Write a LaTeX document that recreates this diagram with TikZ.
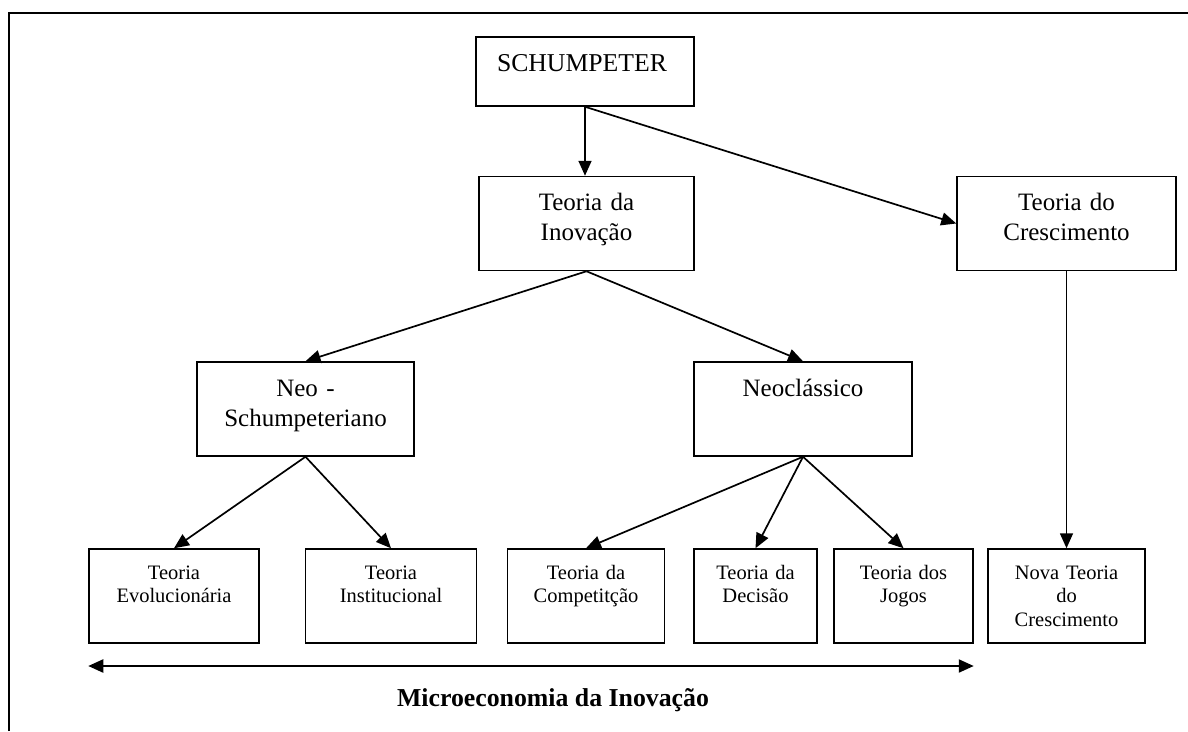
\documentclass[tikz,border=0pt]{standalone}
\usepackage{fontspec}
\setmainfont{Liberation Serif}
\usetikzlibrary{arrows.meta}

\begin{document}
\begin{tikzpicture}[x=1pt, y=-1pt,
		box/.style={draw, line width=1.5pt, text width=#1, inner sep=0pt, align=center,
			font=\fontsize{25}{30}\selectfont, text height=34pt, text depth=60pt},
		leaf/.style={draw, line width=1.5pt, text width=#1, inner sep=0pt, align=center,
			font=\fontsize{20.5}{23.5}\selectfont, text height=30pt, text depth=64pt},
		link/.style={-{Triangle[length=15pt,width=13pt]}, line width=1.7pt}]
		\useasboundingbox (0,0) rectangle (1188,731);

		% Frame (only top and left edges are on the page)
		\draw[line width=1.5pt] (9,731) -- (9,13) -- (1188,13);

		% Top
		\node[box=176, align=left, text height=34pt, text depth=35pt, inner xsep=21pt,
			font=\fontsize{25.7}{30}\selectfont] (schum) at (585,71.5) {SCHUMPETER};

		% Second level
		\node[box=215] (inov) at (586.5,223.5) {Teoria da\\Inovação};
		\node[box=219] (cresc) at (1066.5,223.5) {Teoria do\\Crescimento};

		% Third level
		\node[box=217] (neosch) at (305.5,409) {Neo -\\Schumpeteriano};
		\node[box=218] (neocl) at (803,409) {Neoclássico};

		% Bottom row
		\node[leaf=170] (evol) at (174,596) {Teoria\\Evolucionária};
		\node[leaf=171] (inst) at (391,596) {Teoria\\Institucional};
		\node[leaf=157] (comp) at (586,596) {Teoria da\\Competitção};
		\node[leaf=123] (decis) at (755.5,596) {Teoria da\\Decisão};
		\node[leaf=139] (jogos) at (903.5,596) {Teoria dos\\Jogos};
		\node[leaf=157] (nova) at (1066.5,596) {Nova Teoria\\do\\Crescimento};

		% Connecting arrows
		\draw[link] (schum.south) -- (schum.south |- inov.north);
		\draw[link] (schum.south) -- (cresc.west);
		\draw[link] (inov.south) -- (neosch.north);
		\draw[link] (inov.south) -- (neocl.north);
		\draw[link] (cresc.south) -- (nova.north);
		\draw[link] (neosch.south) -- (evol.north);
		\draw[link] (neosch.south) -- (inst.north);
		\draw[link] (neocl.south) -- (comp.north);
		\draw[link] (neocl.south) -- (decis.north);
		\draw[link] (neocl.south) -- (jogos.north);

		% Microeconomia span
		\coordinate (mleft) at (evol.west |- 0,666);
		\coordinate (mright) at (jogos.east |- 0,666);
		\draw[link, {Triangle[length=15pt,width=13pt]}-{Triangle[length=15pt,width=13pt]}, line width=2.2pt] (mleft) -- (mright);
		\node[font=\fontsize{25.8}{30}\selectfont\bfseries] (micro) at (553,700) {Microeconomia da Inovação};
	\end{tikzpicture}
\end{document}
